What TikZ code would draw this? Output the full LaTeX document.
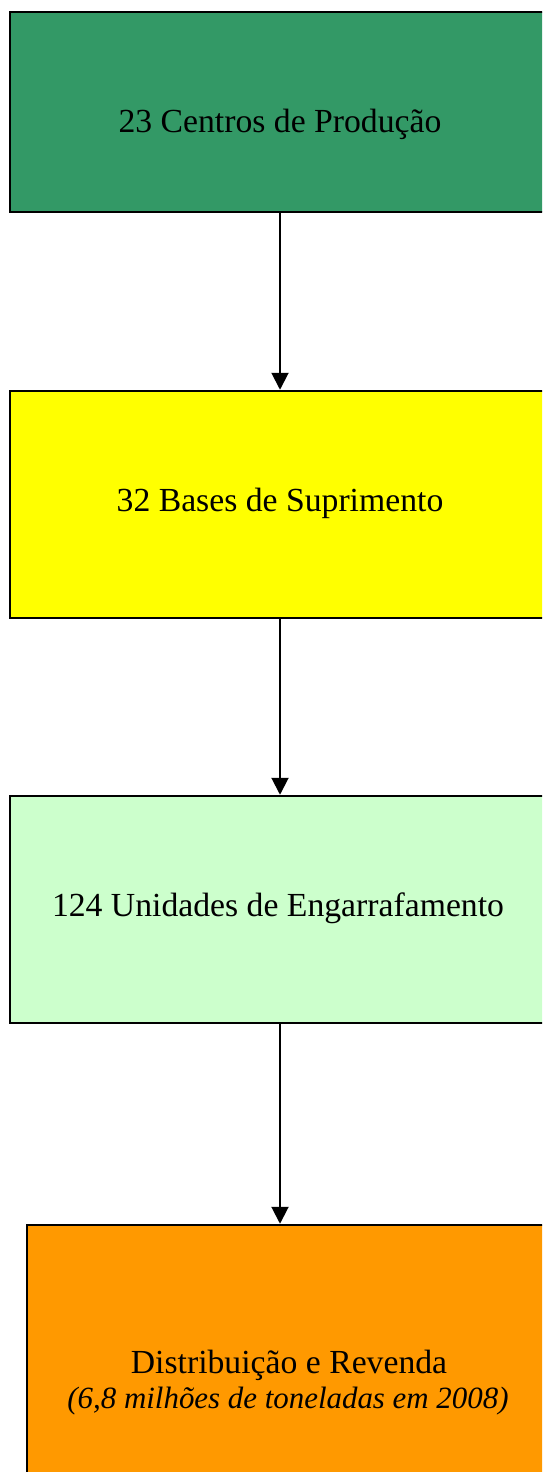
\documentclass[tikz,border=0pt]{standalone}
\usepackage{fontspec}
\setmainfont{Liberation Serif}
\usetikzlibrary{arrows.meta}
\definecolor{sgreen}{HTML}{339966}
\definecolor{yel}{HTML}{FFFF00}
\definecolor{lgreen}{HTML}{CCFFCC}
\definecolor{orng}{HTML}{FF9900}
\tikzset{
  box/.style={draw=black, line width=2.5pt, rectangle, inner sep=0pt},
  arr/.style={line width=2pt, -{Triangle[length=17pt,width=17pt]}},
  lbl/.style={anchor=base, inner sep=0pt, font=\fontsize{33.7}{40}\selectfont},
  ilbl/.style={anchor=base, inner sep=0pt, font=\fontsize{30.9}{37}\selectfont\itshape}
}
\begin{document}
\begin{tikzpicture}[x=1pt,y=-1pt]
\useasboundingbox (0,0) rectangle (542,1472);
\clip (0,0) rectangle (542,1472);
\node[box, fill=sgreen, minimum width=540pt, minimum height=200pt] (b1) at (280,112) {};
\node[box, fill=yel, minimum width=540pt, minimum height=227pt] (b2) at (280,504.5) {};
\node[box, fill=lgreen, minimum width=540pt, minimum height=227pt] (b3) at (280,909.5) {};
\node[box, fill=orng, minimum width=524pt, minimum height=300pt] (b4) at (289,1375) {};
\node[lbl] (t1) at (280,132) {23 Centros de Produção};
\node[lbl] (t2) at (280,511) {32 Bases de Suprimento};
\node[lbl] (t3) at (278,916) {124 Unidades de Engarrafamento};
\node[lbl] (t4) at (289,1373) {Distribuição e Revenda};
\node[ilbl] (t5) at (288,1408) {(6,8 milhões de toneladas em 2008)};
\draw[arr] (b1.south) -- (b2.north);
\draw[arr] (b2.south) -- (b3.north);
\draw[arr] (b3.south) -- (b3.south |- b4.north);
\end{tikzpicture}
\end{document}
